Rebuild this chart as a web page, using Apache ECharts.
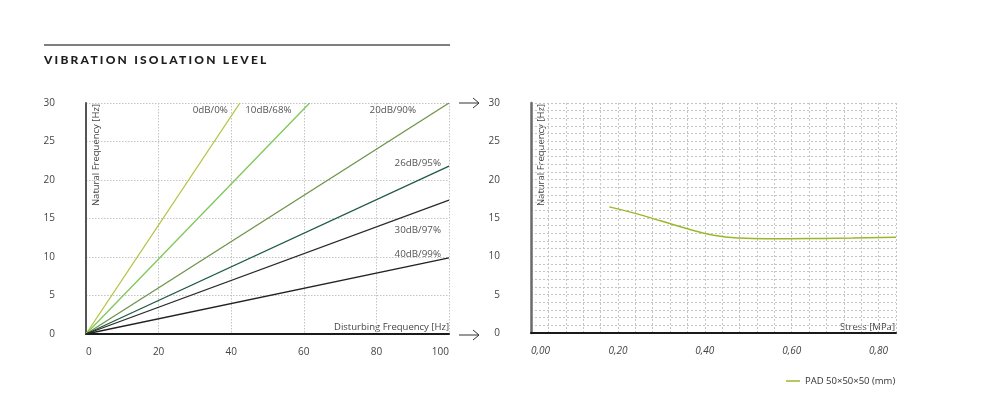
<!DOCTYPE html>
<html>
<head>
<meta charset="utf-8">
<script src="https://cdn.jsdelivr.net/npm/echarts@6/dist/echarts.min.js"></script>
<style>
  html, body { margin: 0; padding: 0; background: #ffffff; }
  #wrap { position: relative; width: 982px; height: 393px; }
  #chart { position: absolute; left: 0; top: 0; width: 982px; height: 393px; }
  #title {
    position: absolute; left: 44px; top: 52px;
    font-family: 'Lato', 'Open Sans', sans-serif; font-weight: 900;
    font-size: 12px; letter-spacing: 2.2px; color: #1e1e1e; white-space: nowrap;
  }
</style>
</head>
<body>
<div id="wrap">
  <div id="chart"></div>
  <div id="title">VIBRATION ISOLATION LEVEL</div>
</div>
<script>
// ---- Data ----
const isolationNames = ['0dB/0%', '10dB/68%', '20dB/90%', '26dB/95%', '30dB/97%', '40dB/99%'];
const isolationEndX = [42.4, 61.6, 100, 100, 100, 100];
const isolationEndY = [30, 30, 30, 21.8, 17.4, 9.9];
const isolationColors = ['#b5c23b', '#7ec75a', '#6e9349', '#1f5c42', '#2a2a2a', '#222222'];

const stressX = [0.18, 0.24, 0.30, 0.36, 0.42, 0.48, 0.54, 0.64, 0.74, 0.84];
const padFreq = [16.45, 15.6, 14.6, 13.6, 12.75, 12.38, 12.3, 12.32, 12.4, 12.5];
const padName = 'PAD 50×50×50 (mm)';

const leftXTicks = { min: 0, max: 100, interval: 20 };
const yTicks = { min: 0, max: 30, interval: 5 };
const rightXTicks = { min: 0, max: 0.84, minor: 0.04, major: 0.2 };

// ---- Style / layout ----
const FONT = "'Open Sans', sans-serif";
const labelColor = '#444';
// end-label offsets (layout only)
const endLabelLayout = [
  { align: 'right', offset: [-12, 7] },
  { align: 'right', offset: [-18, 7] },
  { align: 'right', offset: [-33, 7] },
  { align: 'right', offset: [-8, -3] },
  { align: 'right', offset: [-8, 30] },
  { align: 'right', offset: [-8, -4] }
];

const chart = echarts.init(document.getElementById('chart'), null, { renderer: 'canvas' });

const isoSeries = isolationNames.map((name, i) => ({
  name: name,
  type: 'line',
  xAxisIndex: 0, yAxisIndex: 0,
  data: [[0, 0], [isolationEndX[i], isolationEndY[i]]],
  showSymbol: false,
  symbol: 'none',
  lineStyle: { color: isolationColors[i], width: 1.3 },
  itemStyle: { color: isolationColors[i] },
  silent: true,
  z: 3,
  endLabel: {
    show: true,
    formatter: name,
    color: '#555',
    fontFamily: FONT,
    fontSize: 9.8,
    align: endLabelLayout[i].align,
    verticalAlign: 'middle',
    distance: 0,
    offset: endLabelLayout[i].offset
  }
}));

const option = {
  animation: false,
  backgroundColor: '#ffffff',
  textStyle: { fontFamily: FONT },
  grid: [
    { left: 86, top: 103, width: 363, height: 231 },
    { left: 531, top: 103, width: 365, height: 230 }
  ],
  legend: {
    data: [{ name: padName, icon: 'rect' }],
    left: 781, top: 371,
    itemWidth: 14, itemHeight: 1.5, itemGap: 5,
    textStyle: { fontFamily: FONT, fontSize: 9.5, color: '#333', padding: [0, 0, 0, 0] }
  },
  xAxis: [
    {
      type: 'value', gridIndex: 0,
      min: leftXTicks.min, max: leftXTicks.max, interval: leftXTicks.interval,
      axisLine: { show: true, onZero: false, lineStyle: { color: '#1a1a1a', width: 2 } },
      axisTick: { show: false },
      axisLabel: { color: labelColor, fontSize: 10, margin: 13, alignMinLabel: 'left', alignMaxLabel: 'right' },
      splitLine: { show: true, lineStyle: { color: '#c4c4c4', type: [1.5, 1.5], width: 1 } }
    },
    {
      type: 'value', gridIndex: 1,
      min: rightXTicks.min, max: rightXTicks.max, interval: rightXTicks.minor,
      axisLine: { show: true, onZero: false, lineStyle: { color: '#1a1a1a', width: 2 } },
      axisTick: { show: false },
      axisLabel: {
        color: labelColor, fontSize: 10, margin: 13, fontStyle: 'italic', alignMinLabel: 'left',
        showMaxLabel: false,
        formatter: function (v) {
          const r = v / rightXTicks.major;
          if (Math.abs(r - Math.round(r)) < 1e-6) return v.toFixed(2).replace('.', ',');
          return '';
        }
      },
      splitLine: { show: true, lineStyle: { color: '#c4c4c4', type: [2, 2], width: 1 } }
    }
  ],
  yAxis: [
    {
      type: 'value', gridIndex: 0,
      min: yTicks.min, max: yTicks.max, interval: yTicks.interval,
      axisLine: { show: true, onZero: false, lineStyle: { color: '#555', width: 2 } },
      axisTick: { show: false },
      axisLabel: { color: labelColor, fontSize: 10, margin: 31 },
      splitLine: { show: true, lineStyle: { color: '#c4c4c4', type: [1.5, 1.5], width: 1 } }
    },
    {
      type: 'value', gridIndex: 1,
      min: yTicks.min, max: yTicks.max, interval: 1,
      axisLine: { show: true, onZero: false, lineStyle: { color: '#6a6a6a', width: 2.5 } },
      axisTick: { show: false },
      axisLabel: {
        color: labelColor, fontSize: 10, margin: 31,
        formatter: function (v) { return (v % yTicks.interval === 0) ? String(v) : ''; }
      },
      splitLine: { show: true, lineStyle: { color: '#c4c4c4', type: [2, 2], width: 1 } }
    }
  ],
  series: isoSeries.concat([
    {
      name: padName,
      type: 'line',
      xAxisIndex: 1, yAxisIndex: 1,
      data: stressX.map((x, i) => [x, padFreq[i]]),
      smooth: 0.5,
      showSymbol: false,
      symbol: 'none',
      lineStyle: { color: '#9bb82c', width: 1.5 },
      itemStyle: { color: '#9bb82c' },
      z: 3
    }
  ]),
  graphic: [
    // top rule
    { type: 'line', shape: { x1: 44, y1: 45, x2: 450, y2: 45 }, style: { stroke: '#555', lineWidth: 1.5 } },
    // axis names
    { type: 'text', x: 96, y: 104, rotation: Math.PI / 2,
      style: { text: 'Natural Frequency [Hz]', fill: '#444', font: "9.5px 'Open Sans', sans-serif", align: 'right', verticalAlign: 'middle' } },
    { type: 'text', x: 541, y: 104, rotation: Math.PI / 2,
      style: { text: 'Natural Frequency [Hz]', fill: '#444', font: "9.5px 'Open Sans', sans-serif", align: 'right', verticalAlign: 'middle' } },
    { type: 'text', x: 449, y: 327,
      style: { text: 'Disturbing Frequency [Hz]', fill: '#444', font: "9.5px 'Open Sans', sans-serif", align: 'right', verticalAlign: 'middle' } },
    { type: 'text', x: 895, y: 327,
      style: { text: 'Stress [MPa]', fill: '#444', font: "9.5px 'Open Sans', sans-serif", align: 'right', verticalAlign: 'middle' } },
    // arrows
    { type: 'polyline', shape: { points: [[459, 103], [479, 103]] }, style: { stroke: '#333', lineWidth: 1 } },
    { type: 'polyline', shape: { points: [[473, 98], [479, 103], [473, 108]] }, style: { stroke: '#333', lineWidth: 1, fill: null } },
    { type: 'polyline', shape: { points: [[459, 335], [479, 335]] }, style: { stroke: '#333', lineWidth: 1 } },
    { type: 'polyline', shape: { points: [[473, 330], [479, 335], [473, 340]] }, style: { stroke: '#333', lineWidth: 1, fill: null } }
  ]
};

chart.setOption(option);
</script>
</body>
</html>
